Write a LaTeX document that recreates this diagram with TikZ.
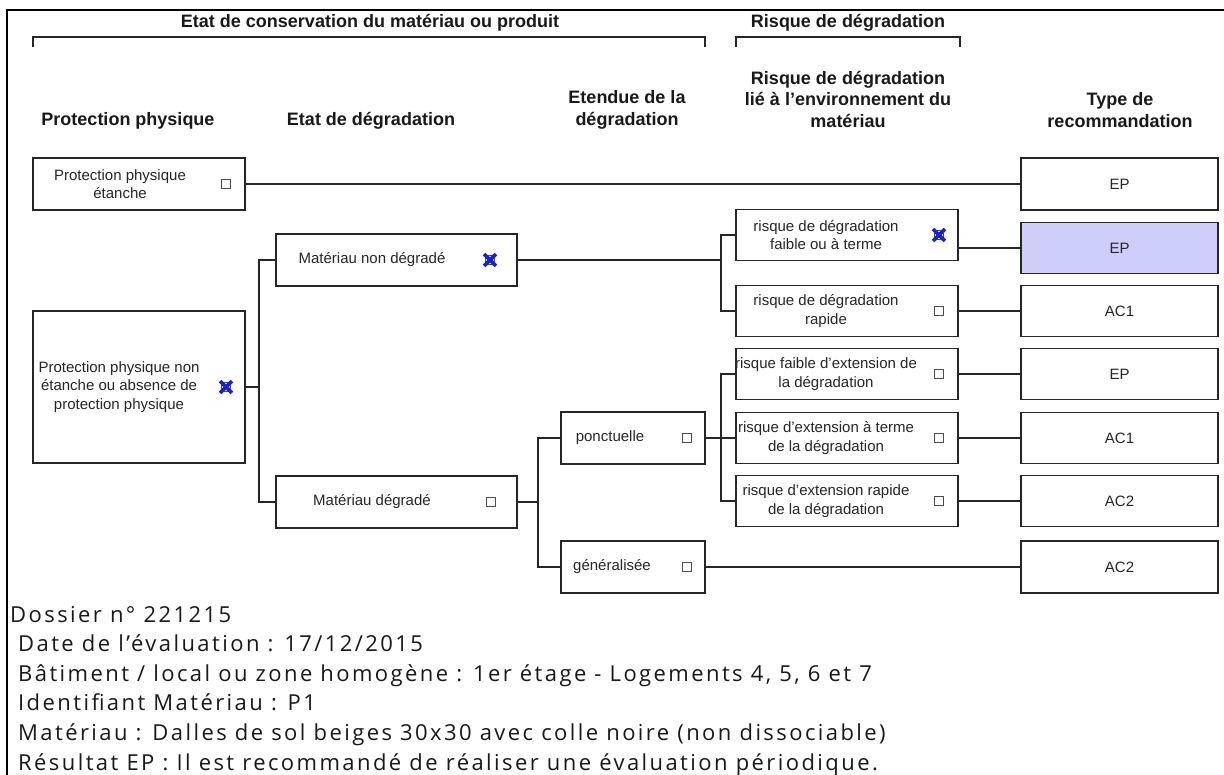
\documentclass[tikz,border=0pt]{standalone}
\usepackage{fontspec}
\setmainfont{Liberation Sans}
\newfontfamily\listfont[LetterSpace=11]{Open Sans}
\begin{document}
\begin{tikzpicture}[x=1pt,y=-1pt,
  frame/.style={line width=1.3pt,draw=black},
  brk/.style={line width=1.4pt,draw=black!85},
  hdr/.style={font=\fontsize{18}{21.5}\selectfont\bfseries,align=center,inner sep=0pt,text=black!90},
  box/.style={draw=black!85,line width=1.5pt,fill=white,inner sep=0pt},
  sbox/.style={box,minimum width=212pt},
  mbox/.style={box,minimum width=241pt,minimum height=52pt},
  pbox/.style={box,minimum width=144pt,minimum height=52pt},
  rbox/.style={box,minimum width=222pt,minimum height=51pt},
  tbox/.style={box,minimum width=197pt,minimum height=51pt},
  sel/.style={fill={rgb,255:red,206;green,206;blue,250}},
  txt/.style={font=\fontsize{15}{18.5}\selectfont,align=center,inner sep=0pt,text=black!85},
  conn/.style={line width=1.5pt,draw=black!85},
  cb/.style={draw=black!70,line width=1.1pt,minimum size=9pt,inner sep=0pt},
  xb/.style={minimum size=11.5pt,inner sep=0pt},
  xm/.style={draw={rgb,255:red,25;green,35;blue,200},line width=3.6pt},
  lst/.style={font=\listfont\fontsize{22}{24}\selectfont,inner sep=0pt,anchor=base west,text=black!90}
]
\useasboundingbox (0,0) rectangle (1224,775);
\fill[white] (0,0) rectangle (1224,775);
% frame
\draw[frame] (7,775) -- (7,10) -- (1224,10);
% top headers
\node[hdr] (h1) at (370,23) {Etat de conservation du matériau ou produit};
\node[hdr] (h2) at (848,23) {Risque de dégradation};
\draw[brk] (33,47) -- (33,37) -- (705,37) -- (705,47);
\draw[brk] (736,47) -- (736,37) -- (960,37) -- (960,47);
% column headers
\node[hdr] (c1) at (128,121) {Protection physique};
\node[hdr] (c2) at (371,121) {Etat de dégradation};
\node[hdr] (c3) at (627,110) {Etendue de la\\dégradation};
\node[hdr] (c4) at (848,99) {Risque de dégradation\\lié à l'environnement du\\matériau};
\node[hdr] (c5) at (1120,110) {Type de\\recommandation};
% column 1
\node[sbox,minimum height=52pt] (ppe) at (139,184) {};
\node[txt] (ppet) at (120,184) {Protection physique\\étanche};
\node[cb] (ppec) at (226,184) {};
\node[sbox,minimum height=152pt] (ppne) at (139,387) {};
\node[txt] (ppnet) at (119,387) {Protection physique non\\étanche ou absence de\\protection physique};
\node[cb] (ppnec) at (226,387) {};
% column 2
\node[mbox] (mnd) at (396.5,260) {};
\node[txt] (mndt) at (372,260) {Matériau non dégradé};
\node[cb] (mndc) at (490,260) {};
\node[mbox] (md) at (396.5,502) {};
\node[txt] (mdt) at (372,502) {Matériau dégradé};
\node[cb] (mdc) at (491,502) {};
% column 3
\node[pbox] (pon) at (633,438) {};
\node[txt] (pont) at (610,438) {ponctuelle};
\node[cb] (ponc) at (687,438) {};
\node[pbox] (gen) at (633,567) {};
\node[txt] (gent) at (612,567) {généralisée};
\node[cb] (genc) at (687,567) {};
% column 4
\node[rbox] (r1) at (847,235) {};
\node[txt] (r1t) at (826,235) {risque de dégradation\\faible ou à terme};
\node[cb] (r1c) at (939,235) {};
\node[rbox] (r2) at (847,311) {};
\node[txt] (r2t) at (826,311) {risque de dégradation\\rapide};
\node[cb] (r2c) at (939,311) {};
\node[rbox] (r3) at (847,374) {};
\node[txt] (r3t) at (826,374) {risque faible d'extension de\\la dégradation};
\node[cb] (r3c) at (939,374) {};
\node[rbox] (r4) at (847,438) {};
\node[txt] (r4t) at (826,438) {risque d'extension à terme\\de la dégradation};
\node[cb] (r4c) at (939,438) {};
\node[rbox] (r5) at (847,501) {};
\node[txt] (r5t) at (826,501) {risque d'extension rapide\\de la dégradation};
\node[cb] (r5c) at (939,501) {};
% column 5
\node[tbox,minimum height=52pt] (t1) at (1119.5,184) {};
\node[txt] (t1t) at (1119.5,184) {EP};
\node[tbox,sel] (t2) at (1119.5,248) {};
\node[txt] (t2t) at (1119.5,248) {EP};
\node[tbox] (t3) at (1119.5,311) {};
\node[txt] (t3t) at (1119.5,311) {AC1};
\node[tbox] (t4) at (1119.5,374) {};
\node[txt] (t4t) at (1119.5,374) {EP};
\node[tbox] (t5) at (1119.5,438) {};
\node[txt] (t5t) at (1119.5,438) {AC1};
\node[tbox] (t6) at (1119.5,501) {};
\node[txt] (t6t) at (1119.5,501) {AC2};
\node[tbox,minimum height=52pt] (t7) at (1119.5,567) {};
\node[txt] (t7t) at (1119.5,567) {AC2};
% crosses (checked boxes)
\node[xb] (ppnex) at (226,387) {};
\node[xb] (mndx) at (490,260) {};
\node[xb] (r1x) at (939,235) {};
\foreach \c in {ppnex,mndx,r1x}{
  \draw[xm] (\c.south west) -- (\c.north east) (\c.north west) -- (\c.south east);
}
% connectors
\coordinate (j1) at (259,387);
\coordinate (j2) at (721,260);
\coordinate (j3) at (538,502);
\coordinate (j4) at (721,438);
\draw[conn] (ppe.east) -- (t1.west);
\draw[conn] (ppne.east) -- (j1);
\draw[conn] (mnd.west) -| (j1);
\draw[conn] (md.west) -| (j1);
\draw[conn] (mnd.east) -- (j2);
\draw[conn] (r1.west) -| (j2);
\draw[conn] (r2.west) -| (j2);
\draw[conn] (md.east) -- (j3);
\draw[conn] (pon.west) -| (j3);
\draw[conn] (gen.west) -| (j3);
\draw[conn] (pon.east) -- (r4.west);
\draw[conn] (r3.west) -| (j4);
\draw[conn] (r5.west) -| (j4);
\draw[conn] (r1.east |- t2.west) -- (t2.west);
\draw[conn] (r2.east) -- (t3.west);
\draw[conn] (r3.east) -- (t4.west);
\draw[conn] (r4.east) -- (t5.west);
\draw[conn] (r5.east) -- (t6.west);
\draw[conn] (gen.east) -- (t7.west);
% listing
\node[lst] (l1) at (10,622) {Dossier n° 221215};
\node[lst] (l2) at (18,651.6) {Date de l’évaluation : 17/12/2015};
\node[lst] (l3) at (18,681.2) {Bâtiment / local ou zone homogène : 1er étage - Logements 4, 5, 6 et 7};
\node[lst] (l4) at (18,710.8) {Identifiant Matériau : P1};
\node[lst] (l5) at (18,740.4) {Matériau : Dalles de sol beiges 30x30 avec colle noire (non dissociable)};
\node[lst] (l6) at (18,770) {Résultat EP : Il est recommandé de réaliser une évaluation périodique.};
\end{tikzpicture}
\end{document}
